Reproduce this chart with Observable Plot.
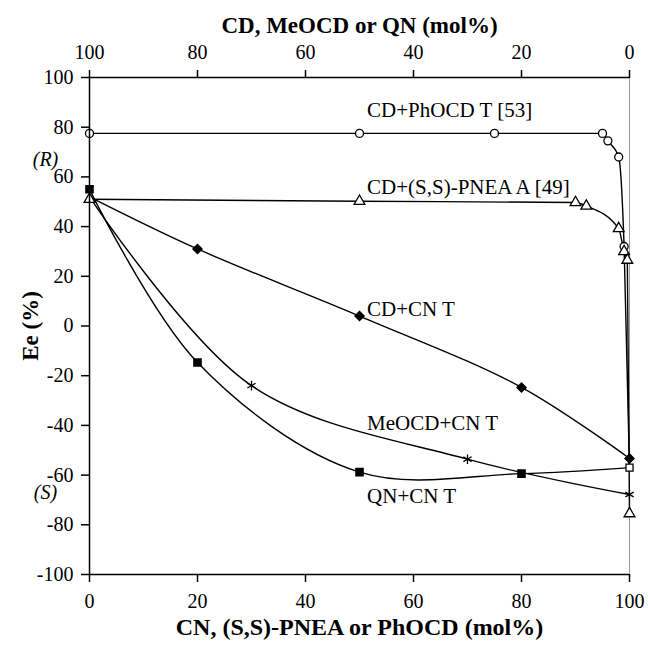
<!DOCTYPE html>
<html><head><meta charset="utf-8">
<script src="https://cdn.jsdelivr.net/npm/d3@7"></script>
<script src="https://cdn.jsdelivr.net/npm/@observablehq/plot@0.6"></script>
<style>
body{margin:0;background:#fff}
#chart svg, #chart svg text { font-family: "Liberation Serif", "Times New Roman", serif !important; }
</style>
</head><body><div id="chart"></div>
<script>
// Series data (x = CN, (S,S)-PNEA or PhOCD mol%, y = Ee %)
const phocdX = [0, 50, 75, 95, 96, 98, 99, 100];
const phocdY = [77.5, 77.5, 77.5, 77.5, 74.5, 68, 32, -57];
const pneaX = [0, 50, 90, 92, 98, 99, 99.6, 100];
const pneaY = [51, 50.2, 49.7, 48.3, 39.2, 30, 26.5, -75.5];
const cdcnX = [0, 20, 50, 80, 100];
const cdcnY = [52, 31, 4, -24.7, -53.3];
const meocdX = [0, 30, 70, 100];
const meocdY = [52, -24, -53.6, -67.8];
const qnX = [0, 20, 50, 80, 100];
const qnY = [55, -14.7, -58.8, -59.4, -57];

const seriesNames = ["CD+PhOCD T [53]", "CD+(S,S)-PNEA A [49]", "CD+CN T", "MeOCD+CN T", "QN+CN T"];
const labelX = [51.4, 51.4, 51.4, 51.4, 51.4];
const labelY = [87, 56, 6.6, -39.2, -68.5];

const xTicks = [0, 20, 40, 60, 80, 100];
const yTicks = [-100, -80, -60, -40, -20, 0, 20, 40, 60, 80, 100];
const xTitle = "CN, (S,S)-PNEA or PhOCD (mol%)";
const x2Title = "CD, MeOCD or QN (mol%)";
const yTitle = "Ee (%)";
const sideLabels = [{y: 67, t: "(R)"}, {y: -67, t: "(S)"}];

const toRows = (xs, ys, s) => xs.map((x, i) => ({x, y: ys[i], s}));
const phocd = toRows(phocdX, phocdY, seriesNames[0]);
const pnea = toRows(pneaX, pneaY, seriesNames[1]);
const cdcn = toRows(cdcnX, cdcnY, seriesNames[2]);
const meocd = toRows(meocdX, meocdY, seriesNames[3]);
const qn = toRows(qnX, qnY, seriesNames[4]);
const cnSeries = [...cdcn, ...meocd, ...qn];
const flatSeries = [...phocd, ...pnea];
const labels = seriesNames.map((t, i) => ({t, x: labelX[i], y: labelY[i]}));

const FONT = "Liberation Serif, Times New Roman, serif";
const lw = 1.4;
const chart = Plot.plot({
  width: 648,
  height: 647,
  marginLeft: 89,
  marginRight: 19,
  marginTop: 77,
  marginBottom: 73,
  style: `font-family: ${FONT}; font-size: 20px; background: #fff; color: #000;`,
  x: {domain: [0, 100]},
  y: {domain: [-100, 100]},
  marks: [
    Plot.ruleX([100], {stroke: "#999", strokeWidth: 1}),
    Plot.line(flatSeries, {x: "x", y: "y", z: "s", curve: "monotone-x", stroke: "#000", strokeWidth: lw}),
    Plot.line(cnSeries, {x: "x", y: "y", z: "s", curve: "catmull-rom", stroke: "#000", strokeWidth: lw}),
    Plot.dot(phocd.filter(d => d.x < 100), {x: "x", y: "y", symbol: "circle", r: 4, fill: "#fff", stroke: "#000", strokeWidth: 1.3}),
    Plot.dot(pnea, {x: "x", y: "y", symbol: "triangle", r: 4, fill: "#fff", stroke: "#000", strokeWidth: 1.3}),
    Plot.dot(cdcn.filter(d => d.x > 0), {x: "x", y: "y", symbol: "diamond2", r: 4, fill: "#000", stroke: "#000"}),
    Plot.dot(meocd.filter(d => d.x > 0), {x: "x", y: "y", symbol: "asterisk", r: 4.5, fill: "none", stroke: "#000", strokeWidth: 1.3}),
    Plot.dot(qn.filter(d => d.x < 100), {x: "x", y: "y", symbol: "square", r: 4, fill: "#000", stroke: "#000"}),
    Plot.dot(qn.filter(d => d.x === 100), {x: "x", y: "y", symbol: "square", r: 4, fill: "#fff", stroke: "#000", strokeWidth: 1.3}),
    Plot.ruleY([-100, 100], {stroke: "#000", strokeWidth: 1.5}),
    Plot.ruleX([0], {stroke: "#000", strokeWidth: 1.5}),
    Plot.axisY(yTicks, {tickSize: 8, tickPadding: 8, strokeWidth: 1.5, label: null, tickFormat: d => String(d), fontFamily: FONT, fontSize: 20}),
    Plot.axisX(xTicks, {anchor: "bottom", tickSize: 8, tickPadding: 11, strokeWidth: 1.5, label: null, tickFormat: d => String(d), fontFamily: FONT, fontSize: 20}),
    Plot.axisX(xTicks, {anchor: "top", tickSize: 8, tickPadding: 11, strokeWidth: 1.5, label: null, tickFormat: d => String(100 - d), fontFamily: FONT, fontSize: 20}),
    Plot.text(labels, {x: "x", y: "y", text: "t", textAnchor: "start", fontSize: 21, fontFamily: FONT}),
    Plot.text(sideLabels, {y: "y", text: "t", frameAnchor: "left", textAnchor: "middle", dx: -44, fontStyle: "italic", fontSize: 20, fontFamily: FONT}),
    Plot.text([xTitle], {frameAnchor: "bottom", textAnchor: "middle", dy: 60, fontWeight: "bold", fontSize: 24, fontFamily: FONT}),
    Plot.text([x2Title], {frameAnchor: "top", textAnchor: "middle", dy: -61, fontWeight: "bold", fontSize: 23, fontFamily: FONT}),
    Plot.text([yTitle], {frameAnchor: "left", textAnchor: "middle", dx: -59, rotate: -90, fontWeight: "bold", fontSize: 23, fontFamily: FONT})
  ]
});
document.getElementById("chart").appendChild(chart);
</script>
</body></html>
